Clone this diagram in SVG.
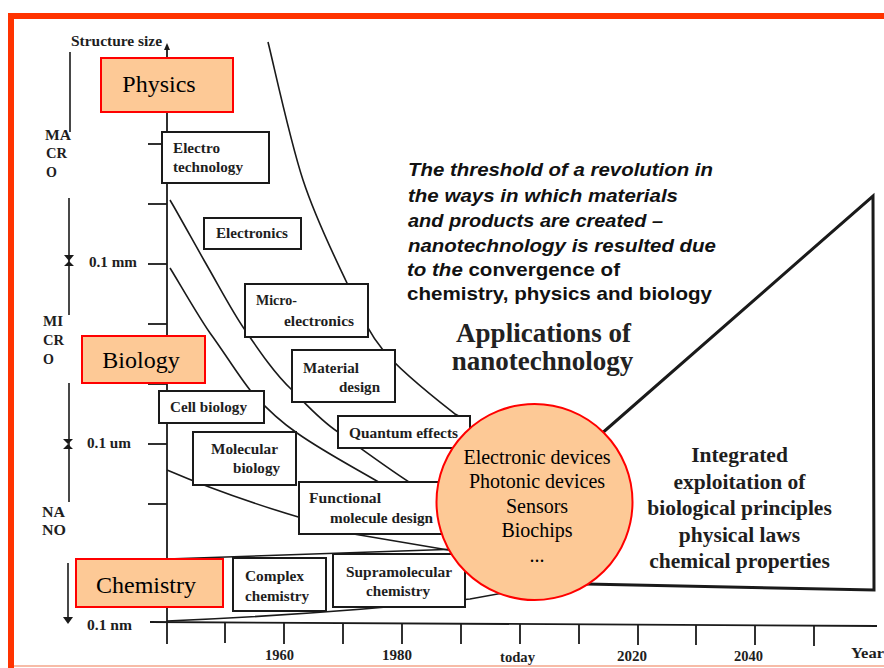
<svg xmlns="http://www.w3.org/2000/svg" width="884" height="668" viewBox="0 0 884 668">
<style>
.ln{fill:none;stroke:#1a1a1a;stroke-width:1.6}
.ax{fill:none;stroke:#1a1a1a;stroke-width:1.8}
.bx{fill:#fff;stroke:#1a1a1a;stroke-width:2}
.ob{fill:#fdc996;stroke:#ff0000;stroke-width:2}
.st{font-family:"Liberation Serif","Times New Roman",serif;font-weight:bold;font-size:14px;fill:#1e1e1e}
.big{font-family:"Liberation Serif","Times New Roman",serif;font-size:24px;fill:#000}
.cir{font-family:"Liberation Serif","Times New Roman",serif;font-size:20px;fill:#000;text-anchor:middle}
.it{font-family:"Liberation Sans",Arial,sans-serif;font-weight:bold;font-size:18.5px;fill:#111}
.ap{font-family:"Liberation Serif","Times New Roman",serif;font-weight:bold;font-size:27px;fill:#222;text-anchor:middle}
.tr{font-family:"Liberation Serif","Times New Roman",serif;font-weight:bold;font-size:21.5px;fill:#1e1e1e;text-anchor:middle}
</style>
<rect x="0" y="0" width="884" height="668" fill="#fff"/>
<!-- frame -->
<rect x="8" y="13" width="876" height="6" fill="#ff3300"/>
<rect x="8" y="13" width="6" height="655" fill="#ff3300"/>
<line x1="14" y1="666" x2="884" y2="666" stroke="#f5a68a" stroke-width="1.5"/>

<!-- axes and scale -->
<g id="axes">
<line class="ax" x1="167" y1="47" x2="167" y2="644"/>
<path d="M164,50 L167,43 L170,50 Z" fill="#1a1a1a"/>
<line class="ax" x1="150" y1="622" x2="877" y2="626"/>
<g class="ax">
<line x1="148" y1="144" x2="167" y2="144"/>
<line x1="148" y1="204" x2="167" y2="204"/>
<line x1="148" y1="264" x2="167" y2="264"/>
<line x1="148" y1="324" x2="167" y2="324"/>
<line x1="148" y1="384" x2="167" y2="384"/>
<line x1="148" y1="444" x2="167" y2="444"/>
<line x1="148" y1="504" x2="167" y2="504"/>
<line x1="148" y1="564" x2="167" y2="564"/>
<line x1="225" y1="623" x2="225" y2="643"/>
<line x1="284" y1="623" x2="284" y2="644"/>
<line x1="343" y1="624" x2="343" y2="644"/>
<line x1="402" y1="624" x2="402" y2="644"/>
<line x1="461" y1="624" x2="461" y2="644"/>
<line x1="520" y1="624" x2="520" y2="644"/>
<line x1="579" y1="624" x2="579" y2="644"/>
<line x1="638" y1="625" x2="638" y2="645"/>
<line x1="696" y1="625" x2="696" y2="645"/>
<line x1="755" y1="625" x2="755" y2="645"/>
<line x1="814" y1="626" x2="814" y2="646"/>
</g>
<text class="st" x="71" y="46" textLength="91" lengthAdjust="spacingAndGlyphs">Structure size</text>
<text class="st" x="89" y="267" textLength="48" lengthAdjust="spacingAndGlyphs">0.1 mm</text>
<text class="st" x="87" y="448" textLength="44" lengthAdjust="spacingAndGlyphs">0.1 um</text>
<text class="st" x="87" y="630" textLength="45" lengthAdjust="spacingAndGlyphs">0.1 nm</text>
<text class="st" x="265" y="660" textLength="29" lengthAdjust="spacingAndGlyphs">1960</text>
<text class="st" x="382" y="660" textLength="30" lengthAdjust="spacingAndGlyphs">1980</text>
<text class="st" x="500" y="662" textLength="35" lengthAdjust="spacingAndGlyphs">today</text>
<text class="st" x="617" y="661" textLength="30" lengthAdjust="spacingAndGlyphs">2020</text>
<text class="st" x="734" y="661" textLength="29" lengthAdjust="spacingAndGlyphs">2040</text>
<text class="st" x="851" y="658" textLength="33" lengthAdjust="spacingAndGlyphs">Year</text>
<!-- left scale -->
<g class="ln">
<line x1="70" y1="52" x2="70" y2="132"/>
<line x1="69" y1="198" x2="69" y2="315"/>
<line x1="69" y1="383" x2="69" y2="502"/>
<line x1="68" y1="563" x2="68" y2="618"/>
</g>
<path d="M64,255 L74,255 L69,261 L74,266 L64,266 L69,261 Z" fill="#1a1a1a"/>
<path d="M63,439 L73,439 L68,444 L73,449 L63,449 L68,444 Z" fill="#1a1a1a"/>
<path d="M63,617 L73,617 L68,624 Z" fill="#1a1a1a"/>
<text class="st" x="45" y="140" textLength="26" lengthAdjust="spacingAndGlyphs">MA</text>
<text class="st" x="46" y="158" textLength="21" lengthAdjust="spacingAndGlyphs">CR</text>
<text class="st" x="46" y="177">O</text>
<text class="st" x="43" y="326" textLength="20" lengthAdjust="spacingAndGlyphs">MI</text>
<text class="st" x="43" y="345" textLength="21" lengthAdjust="spacingAndGlyphs">CR</text>
<text class="st" x="43" y="364">O</text>
<text class="st" x="42" y="517" textLength="23" lengthAdjust="spacingAndGlyphs">NA</text>
<text class="st" x="42" y="535" textLength="24" lengthAdjust="spacingAndGlyphs">NO</text>
</g>

<!-- connectors -->
<g id="connectors" class="ln">
<path d="M268,42 C273.8,65 289.8,139.8 303,180 C316.2,220.2 333.7,254.7 347,283 C360.3,311.3 365.3,328.3 383,350 C400.7,371.7 439.3,401.7 455,414 L466,420"/>
<path d="M170,200 C176,210 197,248 205,262 C220,288 233,313 245,330 C260,352 275,374 292,390 C308,406 320,420 338,432 C360,448 390,470 412,484"/>
<path d="M170,268 C177,279 198,316 210,333 C224,352 238,375 250,390 C262,404 278,420 297,433 C324,452 355,468 382,484"/>
<path d="M167,470 Q230,497 305,519"/>
<path d="M330,530 Q390,540 460,552"/>
<path d="M167,559 L460,549"/>
<path d="M167,621 Q330,614 470,599 L520,590"/>
<path d="M560,470 L873,196 L874,590 L586,584" stroke-width="3"/>
</g>

<!-- nodes -->
<g id="physics"><rect class="ob" x="101" y="58" width="132" height="54"/><text class="big" x="159" y="92" text-anchor="middle">Physics</text></g>
<g id="biology"><rect class="ob" x="82" y="336" width="123" height="47"/><text class="big" x="141" y="368" text-anchor="middle">Biology</text></g>
<g id="chemistry"><rect class="ob" x="76" y="559" width="147" height="48"/><text class="big" x="146" y="593" text-anchor="middle">Chemistry</text></g>

<g id="electrotechnology"><rect class="bx" x="162" y="132" width="107" height="51"/>
<text class="st" x="173" y="153" textLength="47" lengthAdjust="spacingAndGlyphs">Electro</text>
<text class="st" x="173" y="172" textLength="70" lengthAdjust="spacingAndGlyphs">technology</text></g>
<g id="electronics"><rect class="bx" x="204" y="218" width="97" height="31"/>
<text class="st" x="216" y="238" textLength="72" lengthAdjust="spacingAndGlyphs">Electronics</text></g>
<g id="microelectronics"><rect class="bx" x="245" y="284" width="123" height="53"/>
<text class="st" x="256" y="305" textLength="41" lengthAdjust="spacingAndGlyphs">Micro-</text>
<text class="st" x="284" y="326" textLength="70" lengthAdjust="spacingAndGlyphs">electronics</text></g>
<g id="materialdesign"><rect class="bx" x="292" y="350" width="103" height="52"/>
<text class="st" x="303" y="373" textLength="56" lengthAdjust="spacingAndGlyphs">Material</text>
<text class="st" x="339" y="392" textLength="41" lengthAdjust="spacingAndGlyphs">design</text></g>
<g id="quantumeffects"><rect class="bx" x="338" y="416" width="132" height="32"/>
<text class="st" x="349" y="438" textLength="109" lengthAdjust="spacingAndGlyphs">Quantum effects</text></g>
<g id="cellbiology"><rect class="bx" x="159" y="391" width="105" height="32"/>
<text class="st" x="170" y="412" textLength="77" lengthAdjust="spacingAndGlyphs">Cell biology</text></g>
<g id="molecularbiology"><rect class="bx" x="193" y="432" width="103" height="53"/>
<text class="st" x="211" y="454" textLength="67" lengthAdjust="spacingAndGlyphs">Molecular</text>
<text class="st" x="233" y="473" textLength="47" lengthAdjust="spacingAndGlyphs">biology</text></g>
<g id="functionalmolecule"><rect class="bx" x="299" y="482" width="145" height="52"/>
<text class="st" x="309" y="503" textLength="72" lengthAdjust="spacingAndGlyphs">Functional</text>
<text class="st" x="330" y="523" textLength="103" lengthAdjust="spacingAndGlyphs">molecule design</text></g>
<g id="complexchemistry"><rect class="bx" x="233" y="558" width="93" height="53"/>
<text class="st" x="245" y="581" textLength="59" lengthAdjust="spacingAndGlyphs">Complex</text>
<text class="st" x="245" y="601" textLength="64" lengthAdjust="spacingAndGlyphs">chemistry</text></g>
<g id="supramolecular"><rect class="bx" x="333" y="554" width="132" height="53"/>
<text class="st" x="346" y="577" textLength="106" lengthAdjust="spacingAndGlyphs">Supramolecular</text>
<text class="st" x="366" y="596" textLength="64" lengthAdjust="spacingAndGlyphs">chemistry</text></g>

<g id="applications"><circle cx="534.5" cy="502" r="98" fill="#fdc996" stroke="#ff0000" stroke-width="2"/>
<text class="cir" x="537" y="464">Electronic devices</text>
<text class="cir" x="537" y="488">Photonic devices</text>
<text class="cir" x="537" y="513">Sensors</text>
<text class="cir" x="537" y="537">Biochips</text>
<text class="cir" x="537" y="562">...</text></g>

<g id="integrated">
<text class="tr" x="739.5" y="462">Integrated</text>
<text class="tr" x="739.5" y="489">exploitation of</text>
<text class="tr" x="739.5" y="515">biological principles</text>
<text class="tr" x="739.5" y="542">physical laws</text>
<text class="tr" x="739.5" y="568">chemical properties</text>
</g>

<g id="threshold">
<text class="it" x="408" y="176" font-style="italic" textLength="305" lengthAdjust="spacingAndGlyphs">The threshold of a revolution in</text>
<text class="it" x="408" y="202" font-style="italic" textLength="270" lengthAdjust="spacingAndGlyphs">the ways in which materials</text>
<text class="it" x="408" y="227" font-style="italic" textLength="255" lengthAdjust="spacingAndGlyphs">and products are created –</text>
<text class="it" x="408" y="252" font-style="italic" textLength="308" lengthAdjust="spacingAndGlyphs">nanotechnology is resulted due</text>
<text class="it" x="407" y="276" textLength="213" lengthAdjust="spacingAndGlyphs"><tspan font-style="italic">to the</tspan> convergence of</text>
<text class="it" x="407" y="300" textLength="305" lengthAdjust="spacingAndGlyphs">chemistry, physics and biology</text>
</g>
<g id="title">
<text class="ap" x="543.5" y="342">Applications of</text>
<text class="ap" x="542.5" y="370">nanotechnology</text>
</g>
</svg>
